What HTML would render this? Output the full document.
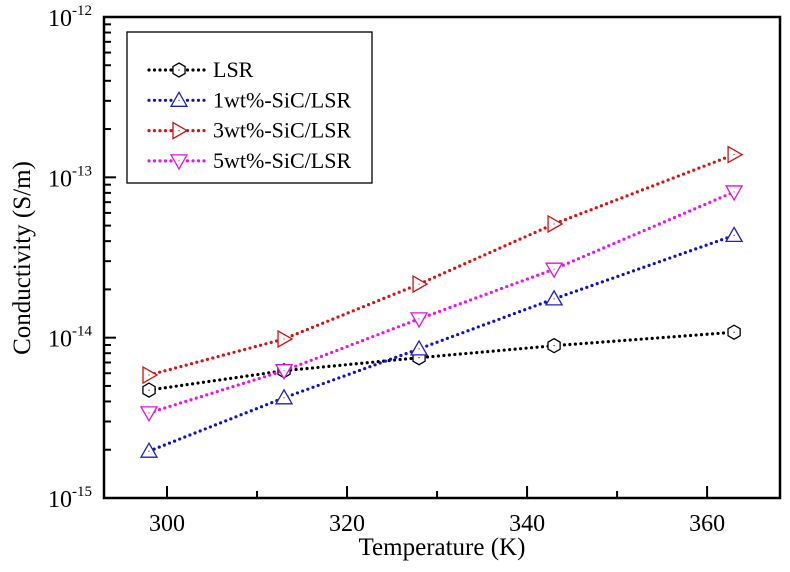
<!DOCTYPE html>
<html><head><meta charset="utf-8"><style>
html,body{margin:0;padding:0;background:#fff;}
svg{display:block;font-family:"Liberation Serif",serif;}
</style></head><body>
<svg id="chart" width="790" height="572" viewBox="0 0 790 572" xmlns="http://www.w3.org/2000/svg">
<g id="axes"></g>
<g id="series"></g>
<g id="legend"></g>
</svg>
<script>
const temps = [298, 313, 328, 343, 363];
const lsrLog = [-14.327, -14.206, -14.125, -14.05, -13.966];
const sic1Log = [-14.708, -14.375, -14.07, -13.758, -13.362];
const sic3Log = [-14.233, -14.008, -13.666, -13.291, -12.858];
const sic5Log = [-14.469, -14.206, -13.883, -13.573, -13.091];
const xTicks = [300, 320, 340, 360];
const xMinorTicks = [310, 330, 350];
const yDecades = [-12, -13, -14, -15];
const seriesNames = ["LSR", "1wt%-SiC/LSR", "3wt%-SiC/LSR", "5wt%-SiC/LSR"];

const NS = "http://www.w3.org/2000/svg";
const L = 104, R = 780, T = 17, B = 498;
const xMin = 293, xMax = 368.1;
function xs(v){ return L + (v - xMin) / (xMax - xMin) * (R - L); }
function ys(lg){ return T + (-12 - lg) / 3 * (B - T); }
function mk(tag, attrs, parent){
  const e = document.createElementNS(NS, tag);
  for (const k in attrs) e.setAttribute(k, attrs[k]);
  parent.appendChild(e); return e;
}
const axes = document.getElementById('axes');
const frame = mk('rect', {x:L, y:T, width:R-L, height:B-T, fill:'none', stroke:'#000', 'stroke-width':2.5}, axes);



xTicks.forEach(v => {
  const x = xs(v);
  const t = mk('line', {x1:x, x2:x, y1:B, y2:B-12, stroke:'#000', 'stroke-width':2}, axes);
  
  
  const lb = mk('text', {x:x, y:B+33, 'font-size':24, 'text-anchor':'middle'}, axes);
  lb.textContent = v;
  
  
});
xMinorTicks.forEach(v => {
  const x = xs(v);
  const t = mk('line', {x1:x, x2:x, y1:B, y2:B-7, stroke:'#000', 'stroke-width':2}, axes);
  
  
});
yDecades.forEach(d => {
  const y = ys(d);
  const t = mk('line', {x1:L, x2:L+12, y1:y, y2:y, stroke:'#000', 'stroke-width':2}, axes);
  
  
  const lb = mk('text', {x:L-12, y:y+9, 'font-size':24, 'text-anchor':'end'}, axes);
  lb.innerHTML = '10<tspan dy="-11" font-size="15">' + d + '</tspan>';
  
  
  if (d > -15) {
    for (let m = 2; m <= 9; m++) {
      const yy = ys(d - 1 + Math.log10(m));
      const mt = mk('line', {x1:L, x2:L+7, y1:yy, y2:yy, stroke:'#000', 'stroke-width':2}, axes);
      
      
    }
  }
});
const xt = mk('text', {x:(L+R)/2, y:555, 'font-size':25, 'text-anchor':'middle'}, axes);
xt.textContent = 'Temperature (K)';


const yt = mk('text', {x:0, y:0, 'font-size':25, 'text-anchor':'middle', transform:'translate(30,258) rotate(-90)'}, axes);
yt.textContent = 'Conductivity (S/m)';



const colors = ['#000000', '#1010c8', '#dd1010', '#ee10ee'];
const markerColors = ['#000000', '#2020c0', '#d01010', '#e010e0'];
const datasets = [lsrLog, sic1Log, sic3Log, sic5Log];
function marker(kind, x, y, color, parent){
  let pts;
  const s = 7;
  if (kind === 0) {
    pts = [];
    for (let i = 0; i < 6; i++) { const a = Math.PI/6 + i*Math.PI/3; pts.push([x + s*Math.cos(a), y + s*Math.sin(a)]); }
  } else if (kind === 1) pts = [[x, y-s-1],[x+s+1, y+s-1],[x-s-1, y+s-1]];
  else if (kind === 2) pts = [[x-s+1, y-s-1],[x+s+1, y],[x-s+1, y+s+1]];
  else pts = [[x-s-1, y-s+1],[x+s+1, y-s+1],[x, y+s+1]];
  const p = mk('polygon', {points: pts.map(q => q.join(',')).join(' '), fill:'#fff', stroke:color, 'stroke-width':1.3}, parent);
  mk('circle', {cx:x, cy:y, r:0.6, fill:color}, parent);
  return p;
}
const sg = document.getElementById('series');
datasets.forEach((data, si) => {
  const g = mk('g', {}, sg);
  
  
  const d = data.map((v, i) => (i ? 'L' : 'M') + xs(temps[i]) + ',' + ys(v)).join(' ');
  const ln = mk('path', {d:d, fill:'none', stroke:colors[si], 'stroke-width':3.2, 'stroke-dasharray':'0 5.5', 'stroke-linecap':'round'}, g);
  
  
  data.forEach((v, i) => {
    const m = marker(si, xs(temps[i]), ys(v), markerColors[si], g);
    
    
  });
});

const lg = document.getElementById('legend');


mk('rect', {x:127, y:32, width:245, height:151, fill:'#fff', stroke:'#000', 'stroke-width':1.3}, lg);
seriesNames.forEach((name, i) => {
  const y = 70 + i*30.3;
  const g = mk('g', {}, lg);
  
  
  mk('path', {d:'M149,' + y + ' L208,' + y, stroke:colors[i], 'stroke-width':3.2, 'stroke-dasharray':'0 5.5', 'stroke-linecap':'round', fill:'none'}, g);
  marker(i, 179, y, markerColors[i], g);
  const t = mk('text', {x:213, y:y+7, 'font-size':22}, g);
  t.textContent = name;
});
</script>
</body></html>
